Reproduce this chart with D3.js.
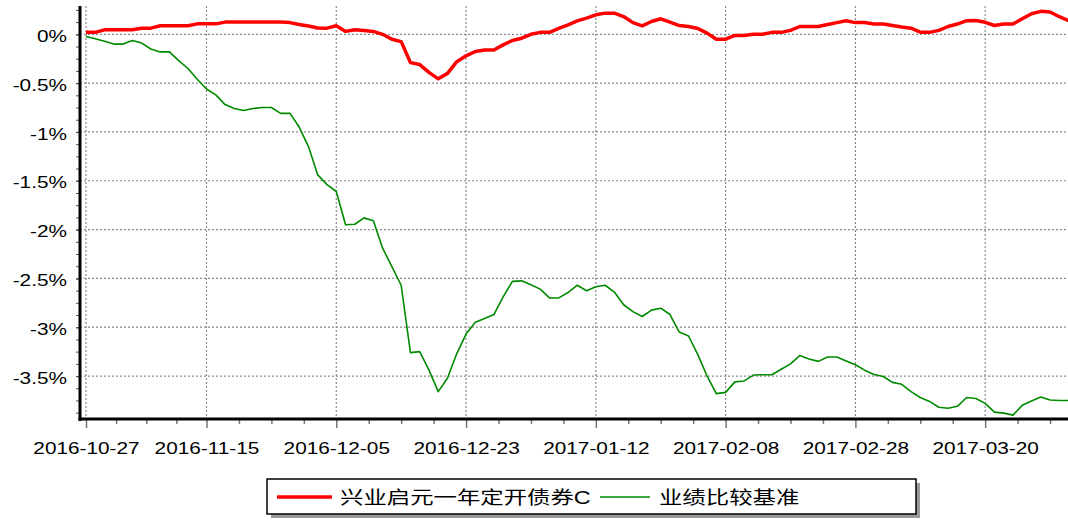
<!DOCTYPE html>
<html>
<head>
<meta charset="utf-8">
<script src="https://cdn.jsdelivr.net/npm/d3@7"></script>
<style>
  body { margin: 0; background: #fff; }
  svg { display: block; font-family: "Liberation Sans", Arial, "Noto Sans CJK SC", sans-serif; }
</style>
</head>
<body>
<div id="chart"></div>
<script>
// series names
const seriesNames = ['兴业启元一年定开债券C', '业绩比较基准'];

// tick labels on the x axis and the point index each one sits at
const tickDates = ['2016-10-27', '2016-11-15', '2016-12-05', '2016-12-23', '2017-01-12', '2017-02-08', '2017-02-28', '2017-03-20'];
const tickIndex = [0, 13, 27, 41, 55, 69, 83, 97];

// fund return, % (one value per trading day)
const fundValues = [
  0.02, 0.02, 0.046, 0.046, 0.046, 0.046, 0.063, 0.063, 0.087, 0.087,
  0.087, 0.087, 0.107, 0.107, 0.107, 0.125, 0.125, 0.125, 0.125, 0.125,
  0.125, 0.125, 0.12, 0.10, 0.085, 0.065, 0.063, 0.087, 0.03, 0.046,
  0.04, 0.03, 0.0, -0.05, -0.075, -0.29, -0.31, -0.39, -0.456, -0.40,
  -0.28, -0.22, -0.176, -0.16, -0.16, -0.108, -0.063, -0.04, 0.0, 0.02,
  0.02, 0.06, 0.097, 0.138, 0.166, 0.2, 0.217, 0.217, 0.182, 0.12,
  0.087, 0.131, 0.159, 0.125, 0.09, 0.08, 0.06, 0.012, -0.05, -0.05,
  -0.012, -0.012, 0.0, 0.0, 0.02, 0.02, 0.04, 0.08, 0.08, 0.08,
  0.1, 0.12, 0.138, 0.12, 0.12, 0.105, 0.105, 0.09, 0.075, 0.063,
  0.022, 0.02, 0.04, 0.08, 0.105, 0.14, 0.141, 0.123, 0.09, 0.105,
  0.105, 0.16, 0.21, 0.235, 0.228, 0.18, 0.141
];

// benchmark return, %
const benchValues = [
  -0.022, -0.045, -0.07, -0.1, -0.1, -0.063, -0.09, -0.15, -0.18, -0.18,
  -0.27, -0.35, -0.46, -0.56, -0.62, -0.72, -0.76, -0.78, -0.76, -0.75,
  -0.75, -0.81, -0.81, -0.95, -1.15, -1.44, -1.54, -1.61, -1.95, -1.945,
  -1.88, -1.91, -2.19, -2.38, -2.57, -3.26, -3.25, -3.44, -3.66, -3.52,
  -3.27, -3.07, -2.95, -2.91, -2.87, -2.69, -2.53, -2.525, -2.565, -2.61,
  -2.70, -2.70, -2.645, -2.57, -2.626, -2.585, -2.57, -2.64, -2.77, -2.84,
  -2.89, -2.825, -2.805, -2.87, -3.05, -3.09, -3.28, -3.50, -3.68, -3.667,
  -3.56, -3.55, -3.49, -3.487, -3.487, -3.43, -3.375, -3.29, -3.325, -3.35,
  -3.305, -3.305, -3.346, -3.385, -3.44, -3.485, -3.505, -3.565, -3.585, -3.66,
  -3.72, -3.76, -3.82, -3.83, -3.81, -3.72, -3.73, -3.78, -3.87, -3.88,
  -3.90, -3.80, -3.755, -3.715, -3.745, -3.75, -3.75
];

const yTicks = [0, -0.5, -1, -1.5, -2, -2.5, -3, -3.5];

const width = 1068, height = 521;
const axisX = 80, plotTop = 6, plotBottom = 419;
const firstX = 86, lastX = 1068.6;
const stretch = 1.3; // text in the picture is drawn wider than tall

const svg = d3.select('#chart').append('svg')
  .attr('width', width)
  .attr('height', height);

const x = d3.scaleLinear().domain([0, fundValues.length - 1]).range([firstX, lastX]);
const y = d3.scaleLinear().domain([-3.94, 0.29]).range([plotBottom, plotTop]);

// minor x ticks: quarters between the labelled dates, continued past the last one
const minorX = [];
for (let k = 0; k < tickIndex.length - 1; k++) {
  const a = tickIndex[k], b = tickIndex[k + 1];
  for (let q = 1; q < 4; q++) minorX.push(a + (b - a) * q / 4);
}
const lastStep = (tickIndex[7] - tickIndex[6]) / 4;
for (let v = tickIndex[7] + lastStep; v <= fundValues.length - 1; v += lastStep) minorX.push(v);

// minor y ticks every 0.125%
const minorY = d3.range(0.25, -3.94, -0.125);

// grid
svg.append('g')
  .selectAll('line')
  .data(yTicks)
  .join('line')
  .attr('x1', axisX).attr('x2', width)
  .attr('y1', d => y(d)).attr('y2', d => y(d))
  .attr('stroke', '#8a8a8a').attr('stroke-width', 1.2)
  .attr('stroke-dasharray', '2,2');

svg.append('g')
  .selectAll('line')
  .data(tickIndex)
  .join('line')
  .attr('x1', d => x(d)).attr('x2', d => x(d))
  .attr('y1', plotTop).attr('y2', plotBottom)
  .attr('stroke', '#8a8a8a').attr('stroke-width', 1.2)
  .attr('stroke-dasharray', '2,2');

// x axis ticks and labels
const xAxis = svg.append('g')
  .attr('transform', `translate(0,${plotBottom})`)
  .call(d3.axisBottom(x).tickValues(tickIndex).tickSize(9).tickFormat((d, i) => tickDates[i]));
xAxis.select('.domain').remove();
xAxis.selectAll('.tick line').attr('stroke', '#777').attr('stroke-width', 1.5);
xAxis.selectAll('.tick text')
  .attr('y', 35)
  .attr('dy', 0)
  .attr('font-size', 16)
  .attr('fill', '#000')
  .attr('transform', `scale(${stretch},1)`);

const xMinor = svg.append('g')
  .attr('transform', `translate(0,${plotBottom})`)
  .call(d3.axisBottom(x).tickValues(minorX).tickSize(5).tickFormat(''));
xMinor.select('.domain').remove();
xMinor.selectAll('.tick line').attr('stroke', '#777').attr('stroke-width', 1.5);

// y axis ticks and labels
const yAxis = svg.append('g')
  .attr('transform', `translate(${axisX},0)`)
  .call(d3.axisLeft(y).tickValues(yTicks).tickSize(4).tickFormat(d => d + '%'));
yAxis.select('.domain').remove();
yAxis.selectAll('.tick line').attr('stroke', '#444').attr('stroke-width', 1.2);
yAxis.selectAll('.tick text')
  .attr('x', -13 / stretch)
  .attr('dy', '0.45em')
  .attr('font-size', 16)
  .attr('fill', '#000')
  .attr('transform', `scale(${stretch},1)`);

const yMinor = svg.append('g')
  .attr('transform', `translate(${axisX},0)`)
  .call(d3.axisLeft(y).tickValues(minorY).tickSize(4).tickFormat(''));
yMinor.select('.domain').remove();
yMinor.selectAll('.tick line').attr('stroke', '#555').attr('stroke-width', 1);

// axis lines
svg.append('line')
  .attr('x1', axisX).attr('x2', axisX)
  .attr('y1', plotTop).attr('y2', plotBottom + 2)
  .attr('stroke', '#000').attr('stroke-width', 3);
svg.append('line')
  .attr('x1', axisX - 1.5).attr('x2', width)
  .attr('y1', plotBottom).attr('y2', plotBottom)
  .attr('stroke', '#000').attr('stroke-width', 3);

// lines
const line = d3.line()
  .x((d, i) => x(i))
  .y(d => y(d));

svg.append('path')
  .datum(benchValues)
  .attr('fill', 'none')
  .attr('stroke', '#008a00')
  .attr('stroke-width', 1.6)
  .attr('stroke-linejoin', 'round')
  .attr('d', line);

svg.append('path')
  .datum(fundValues)
  .attr('fill', 'none')
  .attr('stroke', '#ff0000')
  .attr('stroke-width', 3.5)
  .attr('stroke-linejoin', 'round')
  .attr('d', line);

// legend
const legend = svg.append('g');
legend.append('rect')
  .attr('x', 271).attr('y', 483).attr('width', 649).attr('height', 35)
  .attr('fill', '#999');
legend.append('rect')
  .attr('x', 267).attr('y', 479).attr('width', 649).attr('height', 35)
  .attr('fill', '#fff').attr('stroke', '#000').attr('stroke-width', 1.5);

const legendItems = [
  { name: seriesNames[0], color: '#ff0000', w: 3.5, x1: 277, x2: 332, tx: 340 },
  { name: seriesNames[1], color: '#008a00', w: 1.6, x1: 600, x2: 650, tx: 659 }
];
legendItems.forEach(it => {
  legend.append('line')
    .attr('x1', it.x1).attr('x2', it.x2)
    .attr('y1', 497).attr('y2', 497)
    .attr('stroke', it.color).attr('stroke-width', it.w);
  legend.append('text')
    .attr('x', it.tx / stretch)
    .attr('y', 504)
    .attr('font-size', 18)
    .attr('transform', `scale(${stretch},1)`)
    .text(it.name);
});
</script>
</body>
</html>
